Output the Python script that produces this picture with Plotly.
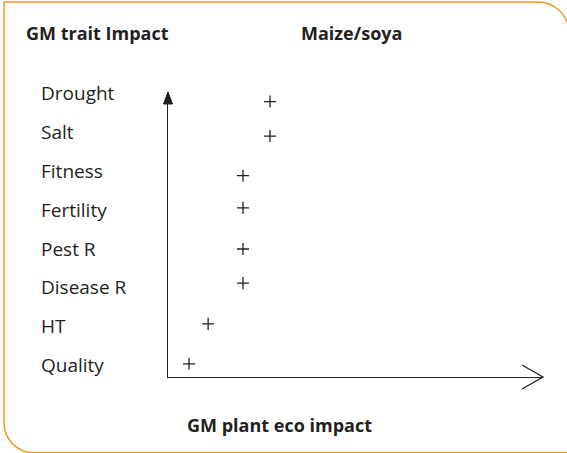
import plotly.graph_objects as go

W, H = 567, 453

traits = ["Quality", "HT", "Disease R", "Pest R", "Fertility", "Fitness", "Salt", "Drought"]
label_pos = [0, 1, 2, 3, 4, 5, 6, 7]
# where each "+" sits: eco impact (x) and its row (y, a bit off the label rows in the original)
eco_impact = [0.56, 1.07, 2.0, 2.0, 2.0, 2.0, 2.72, 2.72]
plus_row = [0.03, 1.06, 2.11, 2.99, 4.05, 4.88, 5.90, 6.79]

INK = "#231f20"
ORANGE = "#f7931e"
FONT = "Open Sans"


def px(x):
    return x / W


def py(y):
    return 1 - y / H


def path(points):
    # points are ("M"/"L"/"C", coords...) in pixel space, converted to paper
    out = []
    for cmd, *xy in points:
        pts = [f"{px(xy[i]):.5f},{py(xy[i + 1]):.5f}" for i in range(0, len(xy), 2)]
        out.append(cmd + " ".join(pts))
    return " ".join(out) + " Z"


k = 0.5523
frame = path([
    ("M", 4, 2),
    ("L", 538, 2),
    ("C", 538 + k * 31, 2, 569, 33 - k * 31, 569, 33),
    ("L", 569, 452.8),
    ("L", 34, 452.8),
    ("C", 34 - k * 30, 452.8, 4, 422.8 + k * 30, 4, 422.8),
])
up_arrow = path([("M", 168, 92), ("L", 172.5, 104), ("L", 163.5, 104)])
right_arrow = "M{:.5f},{:.5f} L{:.5f},{:.5f} L{:.5f},{:.5f}".format(
    px(522), py(365), px(543), py(377), px(522), py(389))

fig = go.Figure()
fig.add_trace(go.Scatter(
    x=eco_impact, y=plus_row, mode="markers",
    marker=dict(symbol="cross-thin", size=8.6, line=dict(color=INK, width=1.3)),
    hoverinfo="skip", showlegend=False,
))

y0, y1 = 377, 93
fig.update_layout(
    width=W, height=H,
    margin=dict(l=0, r=0, t=0, b=0),
    paper_bgcolor="white", plot_bgcolor="white",
    font=dict(family=FONT, color=INK, size=18),
    xaxis=dict(domain=[px(168), px(543)], range=[0, 10], showgrid=False, zeroline=False,
               showticklabels=False, ticks="", showline=True, linecolor=INK, linewidth=1.3),
    yaxis=dict(domain=[py(y0), py(y1)], range=[(365 - y0) / 38.8, (365 - y1) / 38.8],
               showgrid=False, zeroline=False, showticklabels=False, ticks="",
               showline=True, linecolor=INK, linewidth=1.3),
    shapes=[
        dict(type="path", xref="paper", yref="paper", path=frame,
             line=dict(color=ORANGE, width=1.5), fillcolor="rgba(0,0,0,0)"),
        dict(type="path", xref="paper", yref="paper", path=up_arrow,
             line=dict(color=INK, width=1), fillcolor=INK),
        dict(type="path", xref="paper", yref="paper", path=right_arrow,
             line=dict(color=INK, width=1.3), fillcolor="rgba(0,0,0,0)"),
    ],
)

for name, pos in zip(traits, label_pos):
    fig.add_annotation(x=px(39), xref="paper", y=pos, yref="y", text=name,
                       showarrow=False, xanchor="left", yanchor="middle",
                       font=dict(size=19, color=INK))

titles = [
    ("<b>GM trait Impact</b>", 24, 33, "left"),
    ("<b>Maize/soya</b>", 299, 33, "left"),
    ("<b>GM plant eco impact</b>", 279, 425, "center"),
]
for text, x, y, anchor in titles:
    fig.add_annotation(x=px(x), y=py(y), xref="paper", yref="paper", text=text,
                       showarrow=False, xanchor=anchor, yanchor="middle",
                       font=dict(size=18, color=INK))

# the page's default 8px body margin would shift everything
fig.write_html("out.html", config={"displayModeBar": False},
               post_script="document.body.style.margin='0';")
